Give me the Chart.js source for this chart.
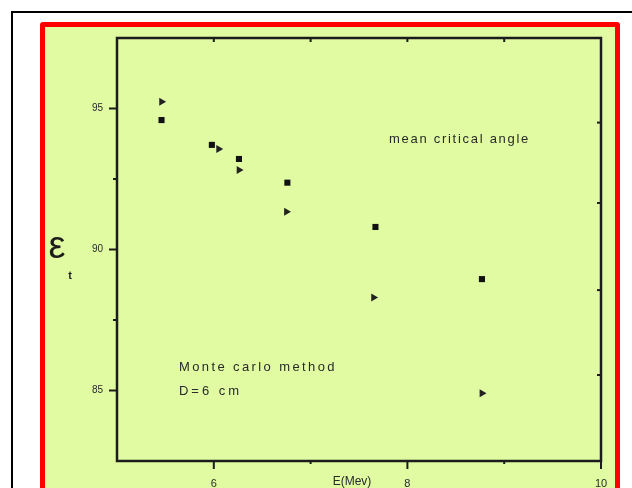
<!DOCTYPE html>
<html><head><meta charset="utf-8">
<script src="https://cdn.jsdelivr.net/npm/chart.js@4.4.0/dist/chart.umd.min.js"></script>
<style>
html,body{margin:0;padding:0;background:#fff;overflow:hidden}
#frame{position:absolute;left:11px;top:11px;width:660px;height:520px;border-left:2px solid #000;border-top:2px solid #000}
#box{position:absolute;left:40px;top:22px;width:570px;height:480px;border:5px solid #f00;border-radius:3px;background:#e0fba2}
#wrap{position:absolute;left:0;top:0;width:632px;height:488px}
</style></head><body>
<div id="frame"></div><div id="box"></div>
<div id="wrap"><canvas id="c" width="632" height="488"></canvas></div>
<script>
// values
const squareX=[5.46,5.98,6.26,6.76,7.67,8.77];
const squareY=[94.59,93.71,93.21,92.37,90.80,88.95];
const markX=[5.46,6.05,6.26,6.75,7.65,8.77];
const markY=[95.24,93.56,92.82,91.34,88.30,84.90];

const xTicks=[6,8,10], xMinor=[7,9], xTop=[6,7,8,9];
const yTicks=[85,90,95], yMinor=[87.5,92.5], yRight=[85.55,88.56,91.65,94.5];

const pts=(xs,ys)=>xs.map((x,i)=>({x,y:ys[i]}));

const ink='#1c1c1c';

function fitText(ctx,t,x,y,w){
  ctx.letterSpacing='0px';
  const m=ctx.measureText(t).width;
  ctx.letterSpacing=((w-m)/t.length).toFixed(2)+'px';
  ctx.fillText(t,x,y);
  ctx.letterSpacing='0px';
}

const deco={
  id:'deco',
  afterDraw(ch){
    const {ctx,chartArea:a,scales:{x,y}}=ch;
    ctx.save();
    ctx.strokeStyle=ink;ctx.lineWidth=2.5;
    ctx.strokeRect(a.left,a.top,a.right-a.left,a.bottom-a.top);
    ctx.lineWidth=2;
    const line=(x1,y1,x2,y2)=>{ctx.beginPath();ctx.moveTo(x1,y1);ctx.lineTo(x2,y2);ctx.stroke();};
    xTicks.forEach(v=>{const p=x.getPixelForValue(v);line(p,a.bottom,p,a.bottom+8);});
    xMinor.forEach(v=>{const p=x.getPixelForValue(v);line(p,a.bottom,p,a.bottom+3);});
    xTop.forEach(v=>{const p=x.getPixelForValue(v);line(p,a.top,p,a.top+4);});
    yTicks.forEach(v=>{const p=y.getPixelForValue(v);line(a.left-8,p,a.left,p);});
    yMinor.forEach(v=>{const p=y.getPixelForValue(v);line(a.left-4,p,a.left,p);});
    yRight.forEach(v=>{const p=y.getPixelForValue(v);line(a.right-4,p,a.right,p);});

    ctx.fillStyle='#2a2a2a';ctx.textBaseline='middle';ctx.textAlign='left';
    ctx.font='13px Arial';
    fitText(ctx,'mean critical angle',389,139,141);
    fitText(ctx,'Monte carlo method',179,367,158);
    fitText(ctx,'D=6 cm',179,391,63);
    ctx.font='12px Arial';ctx.textAlign='center';
    ctx.fillText('E(Mev)',352,482);
    ctx.fillStyle=ink;
    ctx.font='38px Arial';
    ctx.fillText('ε',57,248);
    ctx.font='bold 11px Arial';
    ctx.fillText('t',70,276);
    ctx.restore();
  }
};

new Chart(document.getElementById('c'),{
  type:'scatter',
  data:{datasets:[
    {data:pts(squareX,squareY),pointStyle:'rect',pointRadius:4.3,backgroundColor:'#111',borderColor:'#111',borderWidth:0},
    {data:pts(markX,markY),pointStyle:'triangle',rotation:90,pointRadius:4.6,backgroundColor:'#222',borderColor:'#222',borderWidth:0}
  ]},
  options:{
    responsive:false,animation:false,devicePixelRatio:1,
    layout:{padding:{left:0,top:38,right:31,bottom:0}},
    plugins:{legend:{display:false},tooltip:{enabled:false}},
    scales:{
      x:{type:'linear',min:5,max:10,
        afterBuildTicks:s=>{s.ticks=xTicks.map(v=>({value:v}));},
        afterFit:s=>{s.height=27;},
        border:{display:false},
        grid:{drawOnChartArea:false,drawTicks:true,tickLength:8,color:'transparent'},
        ticks:{padding:8,color:'#2a2a2a',font:{family:'Arial',size:11}}},
      y:{type:'linear',min:82.5,max:97.5,
        afterBuildTicks:s=>{s.ticks=yTicks.map(v=>({value:v}));},
        afterFit:s=>{s.width=117;},
        border:{display:false},
        grid:{drawOnChartArea:false,drawTicks:true,tickLength:8,color:'transparent'},
        ticks:{padding:6,color:'#2a2a2a',font:{family:'Arial',size:10}}}
    }
  },
  plugins:[deco]
});
</script>
</body></html>
